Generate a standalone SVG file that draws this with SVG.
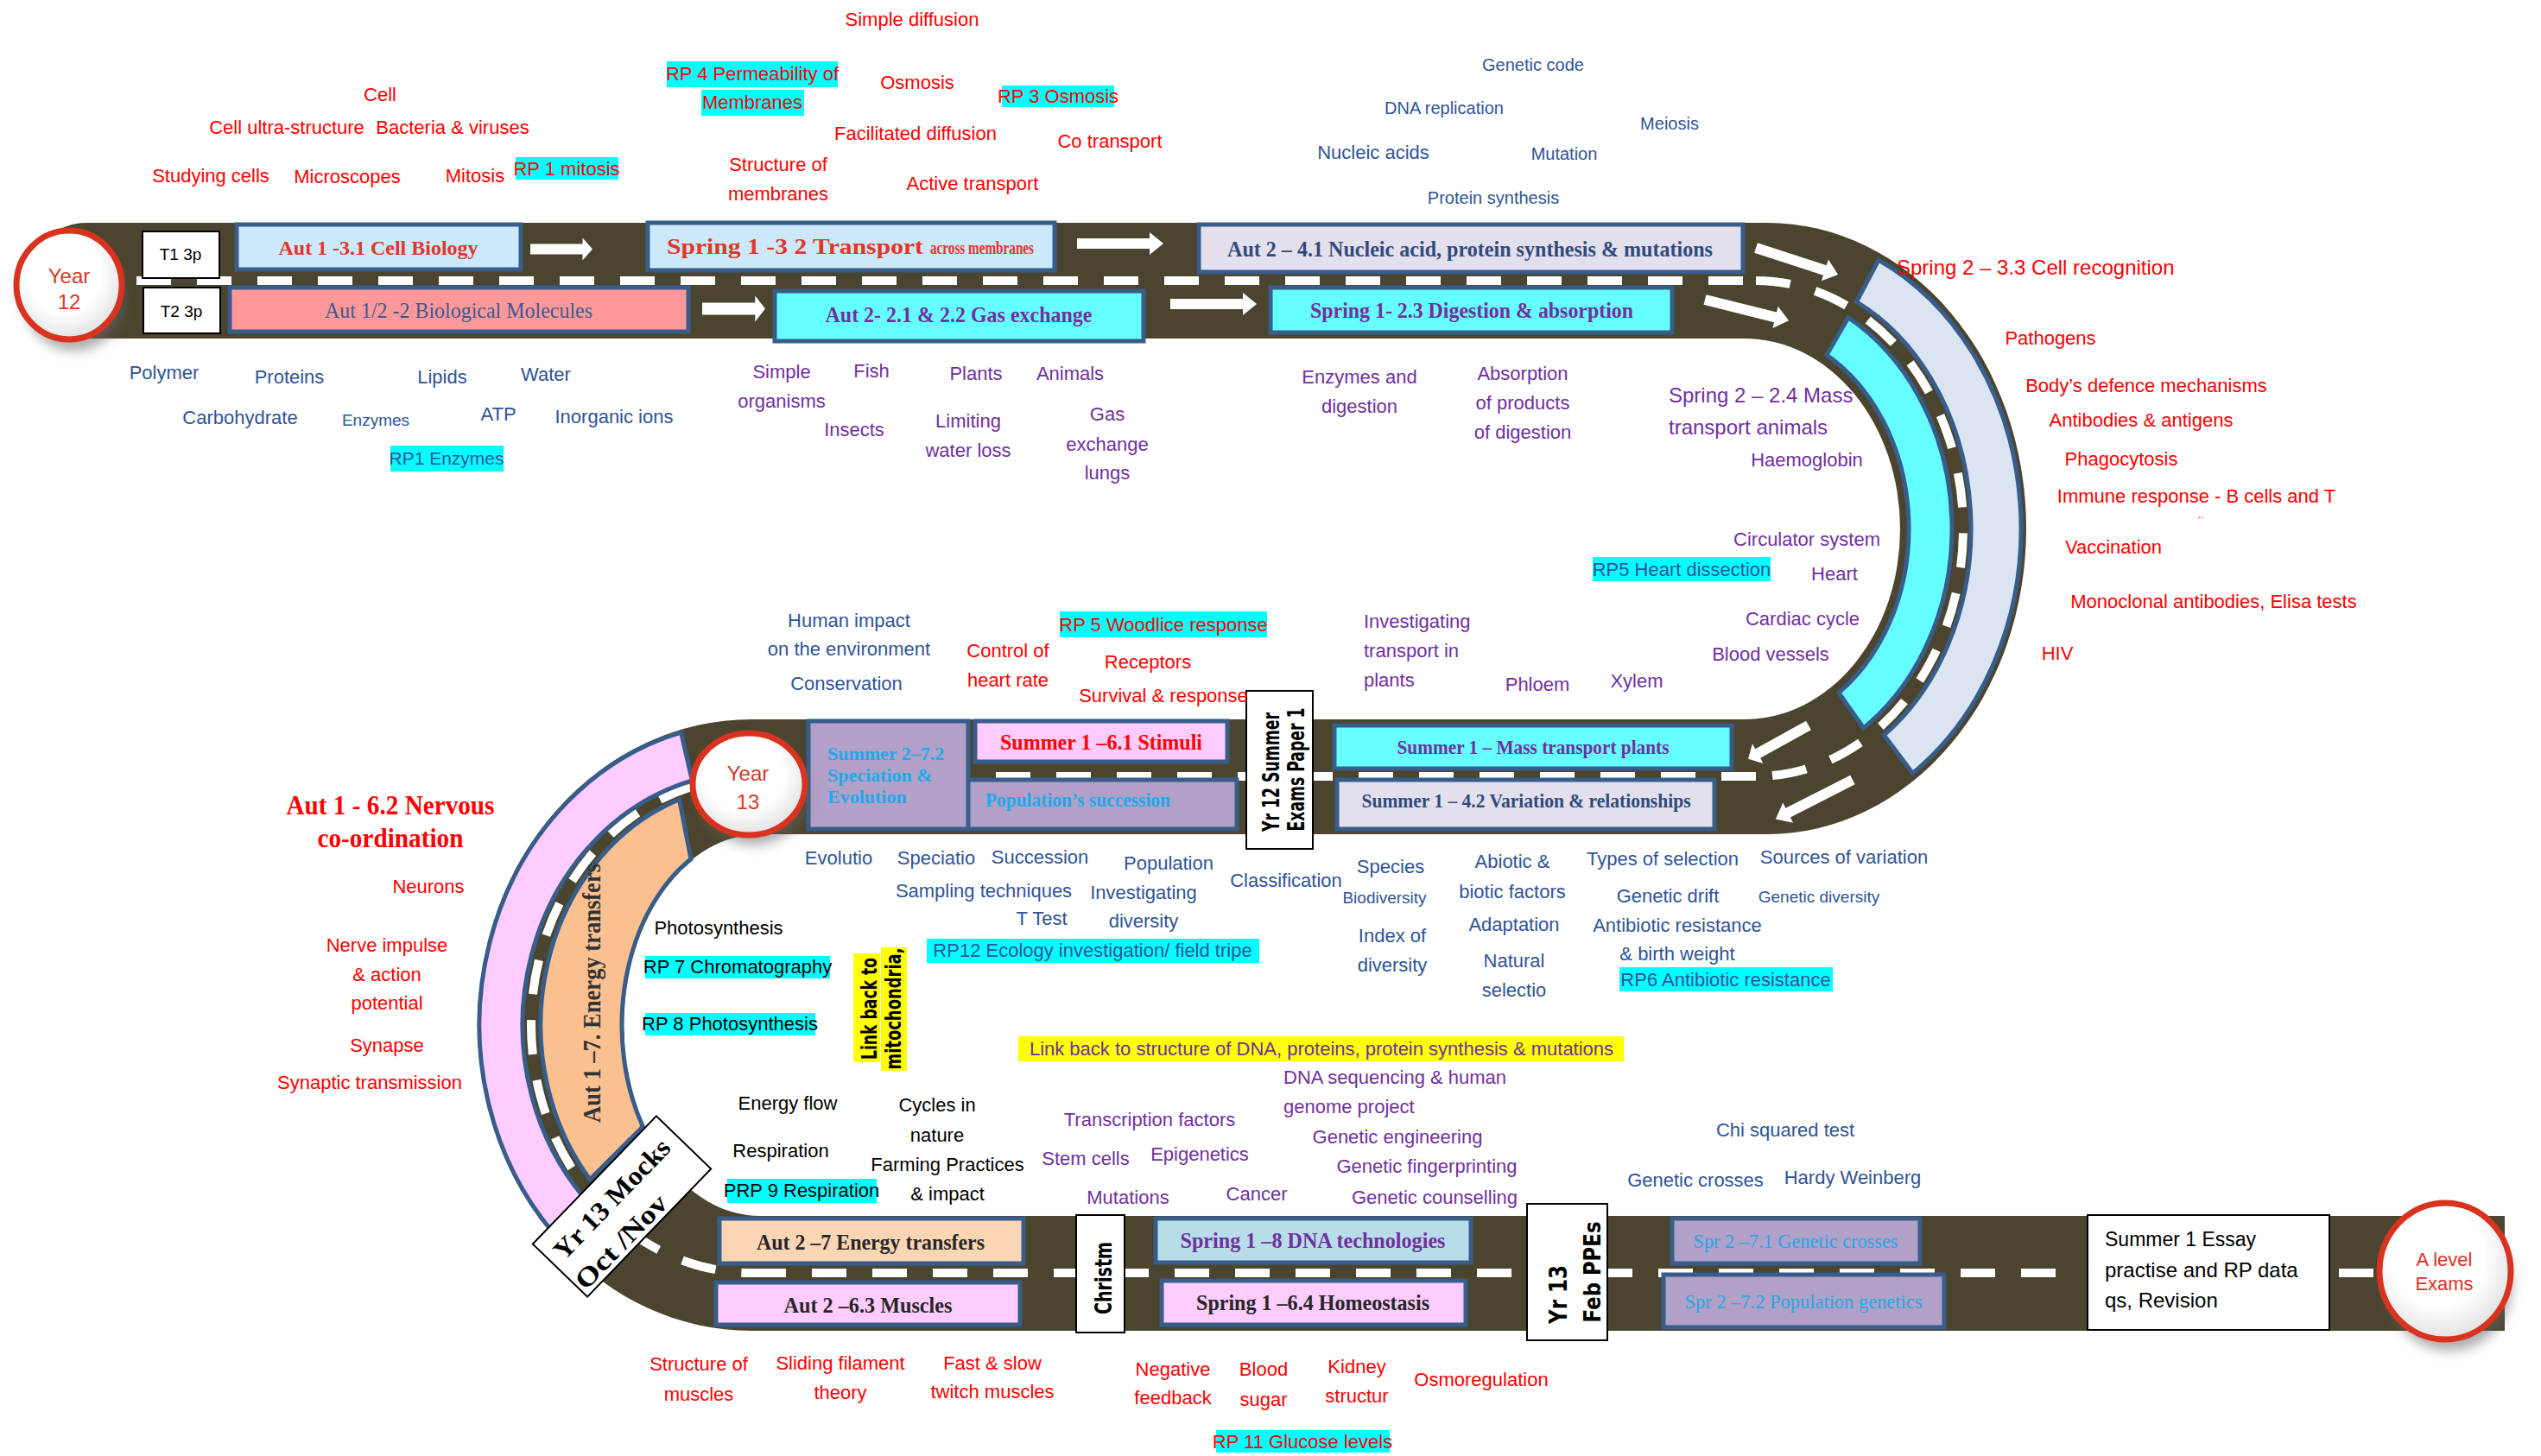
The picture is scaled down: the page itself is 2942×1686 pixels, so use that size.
<svg xmlns="http://www.w3.org/2000/svg" xmlns:xlink="http://www.w3.org/1999/xlink" width="2942" height="1686" viewBox="0 0 2942 1686">
<style>
text{font-family:"Liberation Sans",Arial,sans-serif;font-size:22px;text-anchor:middle}
.r{fill:#ff0000}.n{fill:#2f5496}.p{fill:#7030a0}.k{fill:#000}
.s20{font-size:20px}.s19{font-size:19px}.s24{font-size:24px}
.st{text-anchor:start}
.t{font-family:"Liberation Serif","Times New Roman",serif;font-weight:bold}
.t2{font-family:"Liberation Serif","Times New Roman",serif}
.hl{fill:#00ffff}.yl{fill:#ffff00}
.bx{stroke:#385d8a;stroke-width:5}
.wb{fill:#fff;stroke:#000;stroke-width:2}
.vt{font-family:"DejaVu Sans",Verdana,sans-serif;font-weight:bold;fill:#000}
.dash{fill:none;stroke:#fff;stroke-width:10;stroke-dasharray:40 30}
.cir{fill:url(#cg);stroke:#d7331f;stroke-width:7}
.yr{fill:#d63a2a;font-size:24px}
.sh{fill:#666;opacity:.55}
.arr{fill:#fff}
</style>
<defs>
<radialGradient id="cg" cx="0.45" cy="0.4" r="0.65"><stop offset="0.55" stop-color="#fff"/><stop offset="1" stop-color="#dcdcdc"/></radialGradient>
<filter id="blur" x="-50%" y="-50%" width="200%" height="200%"><feGaussianBlur stdDeviation="7"/></filter>
<polygon id="arr" points="0,-6 84,-6 84,-13 100,0 84,13 84,6 0,6"/>
</defs>
<rect width="2942" height="1686" fill="#fff"/>

<g id="road">
<path d="M100,258 H2046 A300 354 0 0 1 2046,966 H880 A158 221 0 0 0 880,1408 H2900 V1541 H870 A317 354 0 0 1 870,833 H2020 A180 220.5 0 0 0 2020,392 H100 A67 67 0 0 1 100,258 Z" fill="#4b452f"/>
<line class="dash" x1="158" y1="325" x2="2033" y2="325"/>
<path class="dash" d="M2033,325 A240 287 0 0 1 2033,899"/>
<line class="dash" x1="2033" y1="899" x2="870" y2="899"/>
<path class="dash" d="M870,900 A255 287 0 0 0 870,1474"/>
<line class="dash" x1="870" y1="1474" x2="2400" y2="1474"/>
<line class="dash" x1="2708" y1="1474" x2="2750" y2="1474"/>
</g>

<g id="band-cell-recognition"><path class="bx" fill="#dbe5f1" d="M2175,301 A294 346 0 0 1 2214.6,895.4 L2181.4,851.2 A236 292 0 0 0 2149.5,349.6 Z"/></g>
<g id="band-mass-transport-animals"><path class="bx" fill="#66ffff" d="M2140,367.8 A240 282 0 0 1 2157.7,843 L2129,802.1 A190 232 0 0 0 2115,411.1 Z"/></g>
<g id="band-nervous"><path class="bx" fill="#ffccff" d="M788.5,848 A315 351 0 0 0 639.6,1426.4 L676.2,1386.8 A265 293 0 0 1 801.4,904 Z"/></g>
<g id="band-energy-transfers"><path class="bx" fill="#fac090" d="M786.5,925.7 A244 278 0 0 0 683,1365.7 L744.3,1304.6 A160 222 0 0 1 800,994.7 Z"/>
<text class="t" style="font-size:29px" fill="#333" transform="translate(695,1150) rotate(-90)" textLength="300" lengthAdjust="spacingAndGlyphs">Aut 1 –7. Energy transfers</text></g>

<g id="t1"><rect class="wb" x="165" y="268" width="89" height="54"/><text class="k s19" x="209" y="301">T1 3p</text></g>
<g id="t2"><rect class="wb" x="166" y="333" width="89" height="53"/><text class="k s19" x="210" y="367">T2 3p</text></g>
<g id="aut1-cell-biology"><rect class="bx" fill="#cce9fb" x="274" y="260" width="329" height="52"/><text class="t" style="font-size:24px" fill="#e3342a" x="438" y="295" textLength="231" lengthAdjust="spacingAndGlyphs">Aut 1 -3.1 Cell Biology</text></g>
<g id="spring1-transport"><rect class="bx" fill="#cce9fb" x="750" y="258" width="471" height="55"/><text class="t st" style="font-size:25px" fill="#e3342a" x="772" y="294" textLength="297" lengthAdjust="spacingAndGlyphs">Spring 1 -3 2 Transport</text><text class="t st" style="font-size:22px" fill="#e3342a" x="1077" y="294" textLength="120" lengthAdjust="spacingAndGlyphs">across membranes</text></g>
<g id="aut2-nucleic-acid"><rect class="bx" fill="#e4dfec" x="1388" y="260" width="630" height="55"/><text class="t" style="font-size:25px" fill="#2f4b7c" x="1702" y="297" textLength="562" lengthAdjust="spacingAndGlyphs">Aut 2 – 4.1 Nucleic acid, protein synthesis &amp; mutations</text></g>
<g id="aut12-bio-molecules"><rect class="bx" fill="#ff9999" x="266" y="333" width="531" height="51"/><text class="t2" style="font-size:25px" fill="#3b5a8f" x="531" y="368" textLength="310" lengthAdjust="spacingAndGlyphs">Aut 1/2 -2 Biological Molecules</text></g>
<g id="aut2-gas-exchange"><rect class="bx" fill="#66ffff" x="897" y="337" width="427" height="58"/><text class="t p" style="font-size:25px" x="1110" y="373" textLength="309" lengthAdjust="spacingAndGlyphs">Aut 2- 2.1 &amp; 2.2 Gas exchange</text></g>
<g id="spring1-digestion"><rect class="bx" fill="#66ffff" x="1471" y="333" width="465" height="52"/><text class="t p" style="font-size:25px" x="1704" y="368" textLength="374" lengthAdjust="spacingAndGlyphs">Spring 1- 2.3 Digestion &amp; absorption</text></g>

<g id="summer1-mass-transport-plants"><rect class="bx" fill="#66ffff" x="1545" y="840" width="460" height="50"/><text class="t p" style="font-size:24px" x="1775" y="873" textLength="315" lengthAdjust="spacingAndGlyphs">Summer 1 – Mass transport plants</text></g>
<g id="summer1-variation"><rect class="bx" fill="#e4dfec" x="1548" y="903" width="437" height="57"/><text class="t" style="font-size:24px" fill="#2f4b7c" x="1767" y="935" textLength="381" lengthAdjust="spacingAndGlyphs">Summer 1 – 4.2 Variation &amp; relationships</text></g>
<g id="yr12-summer-exams"><rect class="wb" x="1443" y="800" width="77" height="183"/><text class="vt" style="font-size:27px" transform="translate(1481,894) rotate(-90)" textLength="138" lengthAdjust="spacingAndGlyphs">Yr 12 Summer</text><text class="vt" style="font-size:27px" transform="translate(1510,891) rotate(-90)" textLength="143" lengthAdjust="spacingAndGlyphs">Exams Paper 1</text></g>
<g id="summer1-stimuli"><rect class="bx" fill="#ffccff" x="1129" y="835" width="292" height="47"/><text class="t" style="font-size:25px" fill="#ff0000" x="1275" y="868" textLength="234" lengthAdjust="spacingAndGlyphs">Summer 1 –6.1 Stimuli</text></g>
<g id="population-succession"><rect class="bx" fill="#b1a0c7" x="1118" y="903" width="314" height="57"/><text class="t st" style="font-size:23px" fill="#1fa9ea" x="1141" y="934" textLength="214" lengthAdjust="spacingAndGlyphs">Population’s succession</text></g>
<g id="summer2-speciation"><rect class="bx" fill="#b1a0c7" x="936" y="835" width="185" height="125"/><text class="t st" style="font-size:22px" fill="#1fa9ea" x="958" y="880">Summer 2–7.2</text><text class="t st" style="font-size:22px" fill="#1fa9ea" x="958" y="905">Speciation &amp;</text><text class="t st" style="font-size:22px" fill="#1fa9ea" x="958" y="930">Evolution</text></g>

<g id="aut2-energy-transfers"><rect class="bx" fill="#fcd5b5" x="833" y="1411" width="352" height="52"/><text class="t" style="font-size:26px" fill="#262626" x="1008" y="1447" textLength="264" lengthAdjust="spacingAndGlyphs">Aut 2 –7 Energy transfers</text></g>
<g id="aut2-muscles"><rect class="bx" fill="#ffccff" x="829" y="1485" width="352" height="49"/><text class="t" style="font-size:26px" fill="#262626" x="1005" y="1520" textLength="195" lengthAdjust="spacingAndGlyphs">Aut 2 –6.3 Muscles</text></g>
<g id="christmas"><rect class="wb" x="1246" y="1407" width="56" height="136"/><text class="vt" style="font-size:27px" transform="translate(1287,1480) rotate(-90)" textLength="84" lengthAdjust="spacingAndGlyphs">Christm</text></g>
<g id="spring1-dna-tech"><rect class="bx" fill="#b7dee8" x="1338" y="1411" width="365" height="51"/><text class="t p" style="font-size:26px" x="1520" y="1445" textLength="307" lengthAdjust="spacingAndGlyphs">Spring 1 –8 DNA technologies</text></g>
<g id="spring1-homeostasis"><rect class="bx" fill="#ffccff" x="1345" y="1483" width="352" height="51"/><text class="t" style="font-size:26px" fill="#262626" x="1520" y="1517" textLength="270" lengthAdjust="spacingAndGlyphs">Spring 1 –6.4 Homeostasis</text></g>
<g id="yr13-feb-ppes"><rect class="wb" x="1768" y="1394" width="93" height="158"/><text class="vt" style="font-size:28px" transform="translate(1814,1499) rotate(-90)" textLength="68" lengthAdjust="spacingAndGlyphs">Yr 13</text><text class="vt" style="font-size:27px" transform="translate(1853,1473) rotate(-90)" textLength="117" lengthAdjust="spacingAndGlyphs">Feb PPEs</text></g>
<g id="spr2-genetic-crosses"><rect class="bx" fill="#b1a0c7" x="1936" y="1411" width="287" height="52"/><text class="t2" style="font-size:24px" fill="#1fa9ea" x="2079" y="1445" textLength="237" lengthAdjust="spacingAndGlyphs">Spr 2 –7.1 Genetic crosses</text></g>
<g id="spr2-population-genetics"><rect class="bx" fill="#b1a0c7" x="1926" y="1476" width="325" height="61"/><text class="t2" style="font-size:24px" fill="#1fa9ea" x="2088" y="1515" textLength="275" lengthAdjust="spacingAndGlyphs">Spr 2 –7.2 Population genetics</text></g>
<g id="summer1-essay"><rect class="wb" x="2417" y="1407" width="280" height="133"/><text class="k st" style="font-size:23px" x="2437" y="1443">Summer 1 Essay</text><text class="k st s24" x="2437" y="1479">practise and RP data</text><text class="k st s24" x="2437" y="1514">qs, Revision</text></g>

<g id="yr13-mocks" transform="translate(720,1397) rotate(-46)"><rect class="wb" x="-103" y="-44" width="206" height="88"/><text class="t k" style="font-size:31px" x="-2" y="-4" textLength="180" lengthAdjust="spacingAndGlyphs">Yr 13 Mocks</text><text class="t k" style="font-size:31px" x="-30" y="38" textLength="139" lengthAdjust="spacingAndGlyphs">Oct /Nov</text></g>

<g id="connectors">
<use href="#arr" class="arr" transform="translate(614,288.5) scale(0.72,1)"/>
<use href="#arr" class="arr" transform="translate(1247,282)"/>
<use href="#arr" class="arr" transform="translate(813,357.5) scale(0.73,1.15)"/>
<use href="#arr" class="arr" transform="translate(1355,352)"/>
<use href="#arr" class="arr" transform="translate(2033,287) rotate(18)"/>
<use href="#arr" class="arr" transform="translate(1974,347) rotate(14)"/>
<use href="#arr" class="arr" transform="translate(2094,840) rotate(151) scale(0.8,1)"/>
<use href="#arr" class="arr" transform="translate(2145,903) rotate(153)"/>
</g>

<g id="year12"><ellipse class="sh" filter="url(#blur)" cx="86" cy="346" rx="58" ry="60"/><ellipse class="cir" cx="80" cy="330" rx="61" ry="63"/><text class="yr" x="80" y="328">Year</text><text class="yr" x="80" y="358">12</text></g>
<g id="year13"><ellipse class="sh" filter="url(#blur)" cx="872" cy="922" rx="62" ry="56"/><ellipse class="cir" cx="867" cy="908" rx="65" ry="59"/><text class="yr" x="866" y="904">Year</text><text class="yr" x="866" y="937">13</text></g>
<g id="a-level-exams"><ellipse class="sh" filter="url(#blur)" cx="2836" cy="1488" rx="72" ry="76"/><ellipse class="cir" cx="2831" cy="1472" rx="76" ry="79"/><text fill="#e0301e" x="2830" y="1466">A level</text><text fill="#e0301e" x="2830" y="1494">Exams</text></g>

<g id="labels-cell-biology">
<text class="r" x="440" y="117">Cell</text>
<text class="r" x="332" y="155">Cell ultra-structure</text>
<text class="r" x="524" y="155">Bacteria &amp; viruses</text>
<text class="r" x="244" y="211">Studying cells</text>
<text class="r" x="402" y="212">Microscopes</text>
<text class="r" x="550" y="211">Mitosis</text>
<rect class="hl" x="597" y="182" width="119" height="26"/><text class="r" x="656" y="203">RP 1 mitosis</text>
</g>
<g id="labels-transport">
<text class="r" x="1056" y="30">Simple diffusion</text>
<rect class="hl" x="772" y="71" width="198" height="30"/><text class="r" x="871" y="93">RP 4 Permeability of</text>
<rect class="hl" x="812" y="104" width="119" height="30"/><text class="r" x="871" y="126">Membranes</text>
<text class="r" x="1062" y="103">Osmosis</text>
<rect class="hl" x="1160" y="99" width="130" height="25"/><text class="r" x="1225" y="119">RP 3 Osmosis</text>
<text class="r" x="1060" y="162">Facilitated diffusion</text>
<text class="r" x="1285" y="171">Co transport</text>
<text class="r" x="901" y="198">Structure of</text>
<text class="r" x="901" y="232">membranes</text>
<text class="r" x="1126" y="220">Active transport</text>
</g>
<g id="labels-nucleic">
<text class="n s20" x="1775" y="82">Genetic code</text>
<text class="n s20" x="1672" y="132">DNA replication</text>
<text class="n s20" x="1933" y="150">Meiosis</text>
<text class="n" x="1590" y="184">Nucleic acids</text>
<text class="n s20" x="1811" y="185">Mutation</text>
<text class="n s20" x="1729" y="236">Protein synthesis</text>
</g>
<g id="labels-molecules">
<text class="n" x="190" y="439">Polymer</text>
<text class="n" x="335" y="444">Proteins</text>
<text class="n" x="512" y="444">Lipids</text>
<text class="n" x="632" y="441">Water</text>
<text class="n" x="278" y="491">Carbohydrate</text>
<text class="n s19" x="435" y="493">Enzymes</text>
<text class="n" x="577" y="487">ATP</text>
<text class="n" x="711" y="490">Inorganic ions</text>
<rect class="hl" x="452" y="516" width="131" height="30"/><text class="n" style="font-size:21px" x="517" y="538">RP1 Enzymes</text>
</g>
<g id="labels-gas-exchange">
<text class="p" x="905" y="438">Simple</text>
<text class="p" x="905" y="472">organisms</text>
<text class="p" x="1009" y="437">Fish</text>
<text class="p" x="989" y="505">Insects</text>
<text class="p" x="1130" y="440">Plants</text>
<text class="p" x="1239" y="440">Animals</text>
<text class="p" x="1121" y="495">Limiting</text>
<text class="p" x="1121" y="529">water loss</text>
<text class="p" x="1282" y="487">Gas</text>
<text class="p" x="1282" y="522">exchange</text>
<text class="p" x="1282" y="555">lungs</text>
</g>
<g id="labels-digestion">
<text class="p" x="1574" y="444">Enzymes and</text>
<text class="p" x="1574" y="478">digestion</text>
<text class="p" x="1763" y="440">Absorption</text>
<text class="p" x="1763" y="474">of products</text>
<text class="p" x="1763" y="508">of digestion</text>
</g>
<g id="labels-mass-transport">
<text class="p st s24" x="1932" y="466">Spring 2 – 2.4 Mass</text>
<text class="p st s24" x="1932" y="503">transport animals</text>
<text class="p" x="2092" y="540">Haemoglobin</text>
<text class="p" x="2092" y="632">Circulator system</text>
<rect class="hl" x="1844" y="645" width="206" height="28"/><text class="n" x="1947" y="667">RP5 Heart dissection</text>
<text class="p" x="2124" y="672">Heart</text>
<text class="p" x="2087" y="724">Cardiac cycle</text>
<text class="p" x="2050" y="765">Blood vessels</text>
<text class="p" x="1895" y="796">Xylem</text>
<text class="p" x="1780" y="800">Phloem</text>
<text class="p st" x="1579" y="727">Investigating</text>
<text class="p st" x="1579" y="761">transport in</text>
<text class="p st" x="1579" y="795">plants</text>
</g>
<g id="labels-cell-recognition">
<text class="r st s24" x="2196" y="318">Spring 2 – 3.3 Cell recognition</text>
<text class="r" x="2374" y="399">Pathogens</text>
<text class="r" x="2485" y="454">Body’s defence mechanisms</text>
<text class="r" x="2479" y="494">Antibodies &amp; antigens</text>
<text class="r" x="2456" y="539">Phagocytosis</text>
<text class="r" x="2543" y="582">Immune response - B cells and T</text>
<text class="r" style="font-size:12px" x="2548" y="600">..</text>
<text class="r" x="2447" y="641">Vaccination</text>
<text class="r" x="2563" y="704">Monoclonal antibodies, Elisa tests</text>
<text class="r" x="2382" y="764">HIV</text>
</g>
<g id="labels-stimuli">
<text class="n" x="983" y="726">Human impact</text>
<text class="n" x="983" y="759">on the environment</text>
<text class="n" x="980" y="799">Conservation</text>
<text class="r" x="1167" y="761">Control of</text>
<text class="r" x="1167" y="795">heart rate</text>
<rect class="hl" x="1227" y="708" width="240" height="30"/><text class="r" x="1347" y="731">RP 5 Woodlice response</text>
<text class="r" x="1329" y="774">Receptors</text>
<text class="r" x="1347" y="813">Survival &amp; response</text>
</g>
<g id="labels-nervous">
<text class="t r" style="font-size:31px" x="452" y="943" textLength="241" lengthAdjust="spacingAndGlyphs">Aut 1 - 6.2 Nervous</text>
<text class="t r" style="font-size:31px" x="452" y="981" textLength="169" lengthAdjust="spacingAndGlyphs">co-ordination</text>
<text class="r" x="496" y="1034">Neurons</text>
<text class="r" x="448" y="1102">Nerve impulse</text>
<text class="r" x="448" y="1136">&amp; action</text>
<text class="r" x="448" y="1169">potential</text>
<text class="r" x="448" y="1218">Synapse</text>
<text class="r" x="428" y="1261">Synaptic transmission</text>
</g>
<g id="labels-energy">
<text class="k" x="832" y="1082">Photosynthesis</text>
<rect class="hl" x="747" y="1107" width="214" height="26"/><text class="k" x="854" y="1127">RP 7 Chromatography</text>
<rect class="hl" x="747" y="1173" width="197" height="26"/><text class="k" x="845" y="1193">RP 8 Photosynthesis</text>
<rect class="yl" x="988" y="1104" width="31" height="126"/><text class="vt" style="font-size:25px" transform="translate(1015,1168) rotate(-90)" textLength="118" lengthAdjust="spacingAndGlyphs">Link back to</text>
<rect class="yl" x="1020" y="1097" width="30" height="143"/><text class="vt" style="font-size:25px" transform="translate(1043,1168) rotate(-90)" textLength="141" lengthAdjust="spacingAndGlyphs">mitochondria,</text>
<text class="k" x="912" y="1285">Energy flow</text>
<text class="k" x="904" y="1340">Respiration</text>
<rect class="hl" x="842" y="1365" width="173" height="28"/><text class="k" x="928" y="1386">PRP 9 Respiration</text>
<text class="k" x="1085" y="1287">Cycles in</text>
<text class="k" x="1085" y="1322">nature</text>
<text class="k" x="1097" y="1356">Farming Practices</text>
<text class="k" x="1097" y="1390">&amp; impact</text>
</g>
<g id="labels-ecology">
<text class="n" x="971" y="1001">Evolutio</text>
<text class="n" x="1084" y="1001">Speciatio</text>
<text class="n" x="1204" y="1000">Succession</text>
<text class="n" x="1353" y="1007">Population</text>
<text class="n" x="1139" y="1039">Sampling techniques</text>
<text class="n" x="1324" y="1041">Investigating</text>
<text class="n" x="1324" y="1074">diversity</text>
<text class="n" x="1206" y="1071">T Test</text>
<rect class="hl" x="1073" y="1087" width="385" height="28"/><text class="n" x="1265" y="1108">RP12 Ecology investigation/ field tripe</text>
<text class="n" x="1489" y="1027">Classification</text>
</g>
<g id="labels-variation">
<text class="n" x="1610" y="1011">Species</text>
<text class="n s19" x="1603" y="1046">Biodiversity</text>
<text class="n" x="1612" y="1091">Index of</text>
<text class="n" x="1612" y="1125">diversity</text>
<text class="n" x="1751" y="1005">Abiotic &amp;</text>
<text class="n" x="1751" y="1040">biotic factors</text>
<text class="n" x="1753" y="1078">Adaptation</text>
<text class="n" x="1753" y="1120">Natural</text>
<text class="n" x="1753" y="1154">selectio</text>
<text class="n" x="1925" y="1002">Types of selection</text>
<text class="n" x="2135" y="1000">Sources of variation</text>
<text class="n" x="1931" y="1045">Genetic drift</text>
<text class="n s19" x="2106" y="1045">Genetic diversity</text>
<text class="n" x="1942" y="1079">Antibiotic resistance</text>
<text class="n" x="1942" y="1112">&amp; birth weight</text>
<rect class="hl" x="1875" y="1120" width="247" height="28"/><text class="n" x="1998" y="1142">RP6 Antibiotic resistance</text>
</g>
<g id="labels-dna-tech">
<rect class="yl" x="1179" y="1200" width="701" height="29"/><text class="p" x="1530" y="1222">Link back to structure of DNA, proteins, protein synthesis &amp; mutations</text>
<text class="p st" x="1486" y="1255">DNA sequencing &amp; human</text>
<text class="p st" x="1486" y="1289">genome project</text>
<text class="p" x="1331" y="1304">Transcription factors</text>
<text class="p" x="1618" y="1324">Genetic engineering</text>
<text class="p" x="1257" y="1349">Stem cells</text>
<text class="p" x="1389" y="1344">Epigenetics</text>
<text class="p" x="1652" y="1358">Genetic fingerprinting</text>
<text class="p" x="1306" y="1394">Mutations</text>
<text class="p" x="1455" y="1390">Cancer</text>
<text class="p" x="1661" y="1394">Genetic counselling</text>
</g>
<g id="labels-genetics">
<text class="n" x="2067" y="1316">Chi squared test</text>
<text class="n" x="1963" y="1374">Genetic crosses</text>
<text class="n" x="2145" y="1371">Hardy Weinberg</text>
</g>
<g id="labels-muscles-homeostasis">
<text class="r" x="809" y="1587">Structure of</text>
<text class="r" x="809" y="1622">muscles</text>
<text class="r" x="973" y="1586">Sliding filament</text>
<text class="r" x="973" y="1620">theory</text>
<text class="r" x="1149" y="1586">Fast &amp; slow</text>
<text class="r" x="1149" y="1619">twitch muscles</text>
<text class="r" x="1358" y="1593">Negative</text>
<text class="r" x="1358" y="1626">feedback</text>
<text class="r" x="1463" y="1593">Blood</text>
<text class="r" x="1463" y="1628">sugar</text>
<text class="r" x="1571" y="1590">Kidney</text>
<text class="r" x="1571" y="1624">structur</text>
<text class="r" x="1715" y="1605">Osmoregulation</text>
<rect class="hl" x="1408" y="1656" width="201" height="26"/><text class="r" x="1508" y="1677">RP 11 Glucose levels</text>
</g>
</svg>
